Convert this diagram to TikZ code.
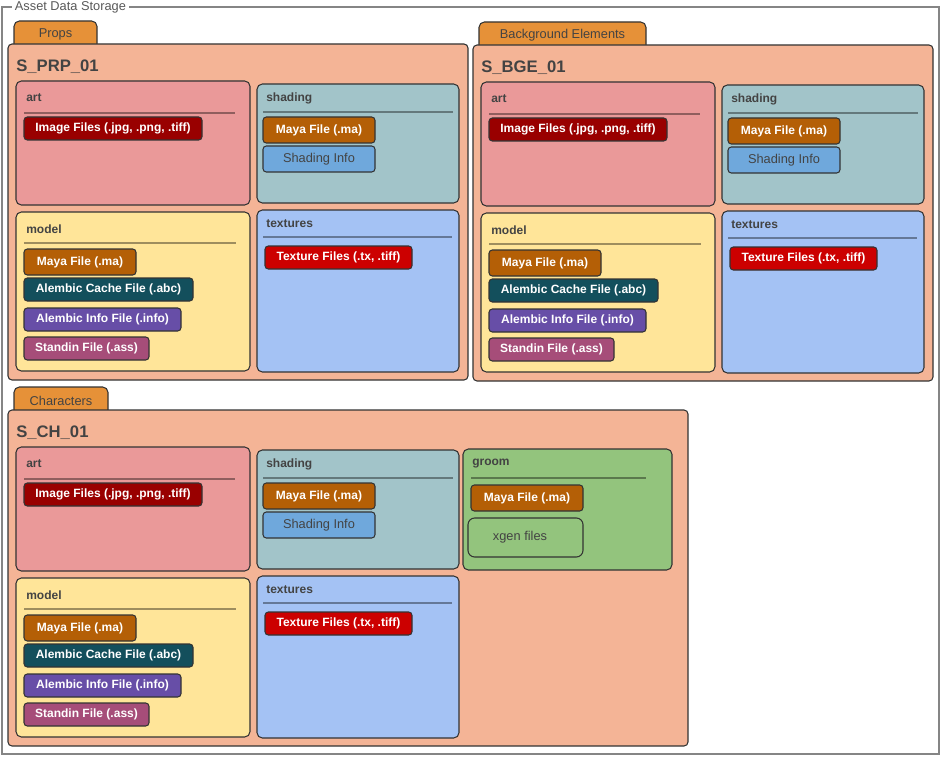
\documentclass[tikz,border=0pt]{standalone}
\usepackage{fontspec}
\setmainfont{Liberation Sans}

\definecolor{linegray}{HTML}{333333}
\definecolor{framegray}{HTML}{858585}
\definecolor{titlegray}{HTML}{595959}
\definecolor{textgray}{HTML}{434343}
\definecolor{salmon}{HTML}{F4B496}
\definecolor{taborange}{HTML}{E69138}
\definecolor{artpink}{HTML}{EA9999}
\definecolor{shadeteal}{HTML}{A2C4C9}
\definecolor{texblue}{HTML}{A4C2F4}
\definecolor{modelyellow}{HTML}{FFE599}
\definecolor{groomgreen}{HTML}{93C47D}
\definecolor{imgred}{HTML}{990000}
\definecolor{mayabrown}{HTML}{B45F06}
\definecolor{infoblue}{HTML}{6FA8DC}
\definecolor{texred}{HTML}{CC0000}
\definecolor{abcteal}{HTML}{134F5C}
\definecolor{infopurple}{HTML}{674EA7}
\definecolor{standinpink}{HTML}{A64D79}

\tikzset{
    folder/.style={draw=linegray, fill=salmon, line width=0.8pt, rounded corners=3pt},
    foldertab/.style={draw=linegray, fill=taborange, line width=0.8pt, rounded corners=4pt},
    tabtext/.style={inner sep=0pt, text=textgray, font=\fontsize{9.6}{11}\selectfont},
    asset/.style={anchor=west, inner sep=0pt, text=textgray, font=\bfseries\fontsize{12.5}{14}\selectfont},
    subfolder/.style={draw=linegray, line width=0.8pt, rounded corners=4pt},
    heading/.style={anchor=west, inner sep=0pt, text=textgray, font=\bfseries\fontsize{9}{10}\selectfont},
    rule/.style={draw=black, draw opacity=0.38, line width=1.5pt},
    fileitem/.style={draw=linegray, line width=0.8pt, rounded corners=2.5pt, text=white, font=\bfseries\fontsize{9}{10}\selectfont},
    plainitem/.style={fileitem, text=textgray, font=\fontsize{9.6}{11}\selectfont},
}

\begin{document}
\begin{tikzpicture}[x=0.75pt, y=-0.75pt]
    \useasboundingbox (0,0) rectangle (941,756);

    % Outer frame
    \draw[framegray, line width=0.8pt] (2,7) rectangle (939,754);
    \node[fill=white, anchor=west, inner sep=2pt, text=titlegray, font=\fontsize{9.6}{11}\selectfont] (storage) at (12,7) {Asset Data Storage};

    % Asset groups
    \foreach \dx/\dy/\id/\tabr/\tabtxt/\boxr in {
        0/0/PRP/97/Props/468,
        465/1/BGE/181/Background Elements/468,
        0/366/CH/108/Characters/688
        } {
        \begin{scope}[shift={(\dx,\dy)}]
            \filldraw[foldertab] (14,44) -- (14,21) -- (\tabr,21) -- (\tabr,44);
            \node[tabtext] (tab-\id) at ({(14+\tabr)/2},34.5) {\tabtxt};
            \draw[folder] (8,44) rectangle (\boxr,380);
            \node[asset] (name-\id) at (16,67) {S\_\id\_01};

            % art
            \draw[subfolder, fill=artpink] (16,81) rectangle (250,205);
            \node[heading] (art-\id) at (26,98) {art};
            \draw[rule] (24,113) -- (235,113);
            \draw[fileitem, fill=imgred] (24,117) rectangle node (img-\id) {Image Files (.jpg, .png, .tiff)} (202,140);

            % shading
            \draw[subfolder, fill=shadeteal] (257,84) rectangle (459,203);
            \node[heading] (shading-\id) at (266,98) {shading};
            \draw[rule] (263,112) -- (453,112);
            \draw[fileitem, fill=mayabrown] (263,117) rectangle node (shma-\id) {Maya File (.ma)} (375,143);
            \draw[plainitem, fill=infoblue] (263,146) rectangle node (shinfo-\id) {Shading Info} (375,172);

            % textures
            \draw[subfolder, fill=texblue] (257,210) rectangle (459,372);
            \node[heading] (textures-\id) at (266,224) {textures};
            \draw[rule] (263,237) -- (452,237);
            \draw[fileitem, fill=texred] (265,246) rectangle node (tex-\id) {Texture Files (.tx, .tiff)} (412,269);

            % model
            \draw[subfolder, fill=modelyellow] (16,212) rectangle (250,371);
            \node[heading] (model-\id) at (26,229) {model};
            \draw[rule] (24,243) -- (236,243);
            \draw[fileitem, fill=mayabrown] (24,249) rectangle node (mdma-\id) {Maya File (.ma)} (136,275);
            \draw[fileitem, fill=abcteal] (24,278) rectangle node (abc-\id) {Alembic Cache File (.abc)} (193,301);
            \draw[fileitem, fill=infopurple] (24,308) rectangle node (abcinfo-\id) {Alembic Info File (.info)} (181,331);
            \draw[fileitem, fill=standinpink] (24,337) rectangle node (standin-\id) {Standin File (.ass)} (149,360);
        \end{scope}
    }

    % groom (characters only)
    \draw[subfolder, fill=groomgreen] (463,449) rectangle (672,570);
    \node[heading] (groom-CH) at (472,464) {groom};
    \draw[rule] (471,478) -- (646,478);
    \draw[fileitem, fill=mayabrown] (471,485) rectangle node (grma-CH) {Maya File (.ma)} (583,511);
    \draw[plainitem, rounded corners=5pt] (468,518) rectangle (583,557);
    \node[plainitem, draw=none, inner sep=0pt] (xgen-CH) at (520,537) {xgen files};
\end{tikzpicture}
\end{document}
